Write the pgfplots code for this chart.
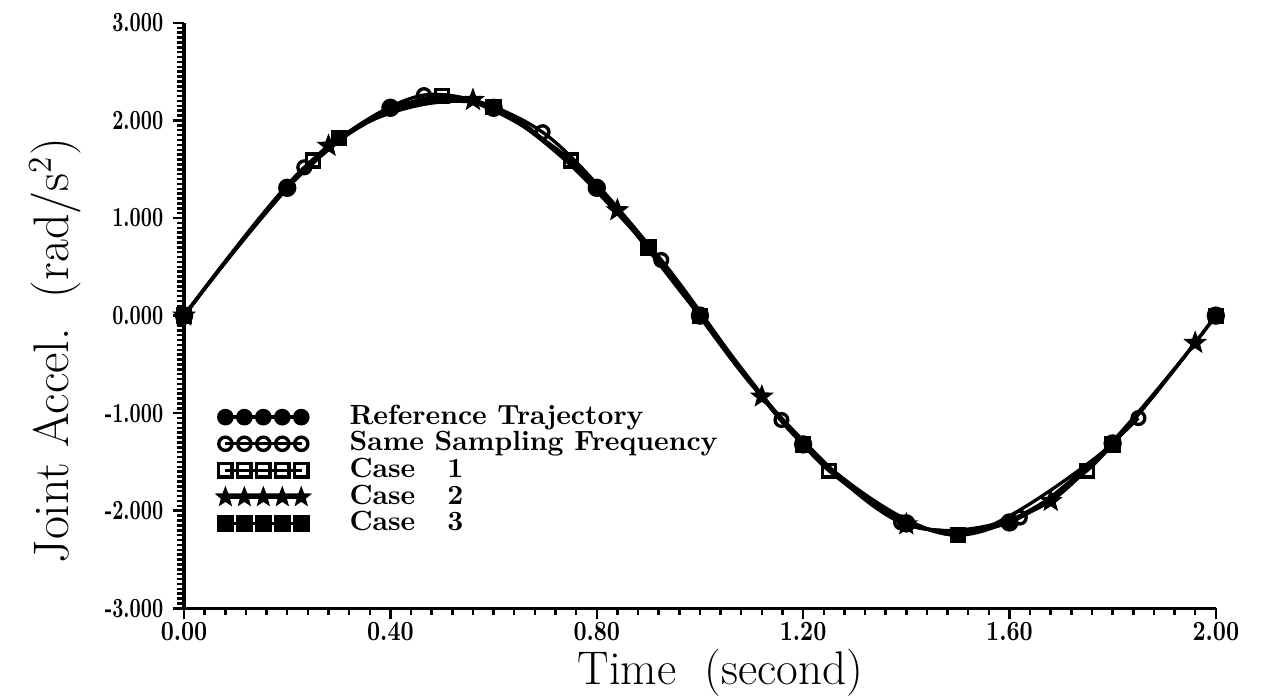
\documentclass[border=0pt]{standalone}
\usepackage{graphicx}
\usepackage{pgfplots}
\pgfplotsset{compat=1.18}

% filled five-pointed star
\pgfdeclareplotmark{fstar}{%
  \pgfpathmoveto{\pgfpointpolar{90}{\pgfplotmarksize}}%
  \pgfpathlineto{\pgfpointpolar{126}{0.42\pgfplotmarksize}}%
  \pgfpathlineto{\pgfpointpolar{162}{\pgfplotmarksize}}%
  \pgfpathlineto{\pgfpointpolar{198}{0.42\pgfplotmarksize}}%
  \pgfpathlineto{\pgfpointpolar{234}{\pgfplotmarksize}}%
  \pgfpathlineto{\pgfpointpolar{270}{0.42\pgfplotmarksize}}%
  \pgfpathlineto{\pgfpointpolar{306}{\pgfplotmarksize}}%
  \pgfpathlineto{\pgfpointpolar{342}{0.42\pgfplotmarksize}}%
  \pgfpathlineto{\pgfpointpolar{18}{\pgfplotmarksize}}%
  \pgfpathlineto{\pgfpointpolar{54}{0.42\pgfplotmarksize}}%
  \pgfpathclose\pgfusepathqfillstroke}

\begin{document}
\begin{tikzpicture}
\begin{axis}[
  scale only axis,
  width=13.06cm, height=7.41cm,
  xmin=0, xmax=2, ymin=-3, ymax=3,
  clip=false,
  axis x line=bottom, axis y line=left,
  axis line style={-, line width=1.3pt},
  xtick={0,0.4,0.8,1.2,1.6,2.0},
  ytick={-3,-2,-1,0,1,2,3},
  minor x tick num=9, minor y tick num=19,
  tick align=outside,
  major tick length=0.14cm, minor tick length=0.09cm,
  every tick/.style={black, line width=0.9pt},
  /pgf/number format/assume math mode=true,
  xticklabel={\scalebox{0.82}[1]{\pgfmathprintnumber[fixed,fixed zerofill,precision=2]{\tick}}},
  yticklabel={\scalebox{0.7}[1]{\pgfmathprintnumber[fixed,fixed zerofill,precision=3]{\tick}}},
  ticklabel style={font=\fontsize{10}{11}\selectfont\bfseries},
  xticklabel style={inner sep=0.5pt, text height=7pt, text depth=0pt},
  xlabel={Time\ \ (second)},
  ylabel={Joint Accel.\ \ (rad/s$^{2}$)},
  xlabel style={font=\fontsize{17}{19}\selectfont, inner sep=0pt, at={(axis description cs:0.52,-0.1305)}, anchor=base},
  ylabel style={font=\fontsize{18}{20}\selectfont, at={(axis description cs:-0.125,0.44)}, anchor=center},
  legend style={at={(axis cs:0.05,-0.85)}, anchor=north west, draw=none, fill=none,
    font=\fontsize{10}{10}\selectfont\bfseries, row sep=0.6pt,
    nodes={inner sep=0pt, text height=7pt, text depth=2pt}},
  legend cell align=left,
  legend image code/.code={%
    \draw[#1, mark size=2.4pt] plot coordinates {(0cm,0cm) (0.24cm,0cm) (0.48cm,0cm) (0.72cm,0cm) (0.96cm,0cm)};
    \path (1.55cm,0cm);},
]
% Reference Trajectory
\addplot[black, line width=1.2pt, smooth, mark=*, mark size=2.7pt] coordinates {
  (0,0) (0.2,1.31) (0.4,2.13) (0.6,2.13) (0.8,1.31) (1.0,0)
  (1.2,-1.32) (1.4,-2.13) (1.6,-2.12) (1.8,-1.31) (2.0,0)
};
% Same Sampling Frequency
\addplot[black, line width=1.2pt, smooth, mark=o, mark size=2.3pt, mark options={fill=white}] coordinates {
  (0,0) (0.233,1.52) (0.465,2.26) (0.695,1.88) (0.925,0.57) (1.158,-1.07)
  (1.39,-2.12) (1.62,-2.07) (1.85,-1.05)
};
% Case 1
\addplot[black, line width=1.2pt, smooth, mark=square, mark size=2.3pt, mark options={fill=white}] coordinates {
  (0,0) (0.25,1.59) (0.5,2.25) (0.75,1.59) (1.0,0) (1.25,-1.59)
  (1.5,-2.25) (1.75,-1.59) (2.0,0)
};
% Case 2
\addplot[black, line width=1.2pt, smooth, mark=fstar, mark size=2.8pt] coordinates {
  (0,0) (0.28,1.74) (0.56,2.21) (0.84,1.08) (1.12,-0.83) (1.40,-2.14)
  (1.68,-1.90) (1.96,-0.28)
};
% Case 3
\addplot[black, line width=1.2pt, smooth, mark=square*, mark size=2.4pt] coordinates {
  (0,0) (0.3,1.82) (0.6,2.14) (0.9,0.70) (1.2,-1.32) (1.5,-2.25) (1.8,-1.32)
};
\legend{Reference Trajectory, Same Sampling Frequency, Case\ \ \ 1, Case\ \ \ 2, Case\ \ \ 3}
\end{axis}
\pgfresetboundingbox
\path (-2.33cm,-1.13cm) rectangle (13.67cm,7.70cm);
\end{tikzpicture}
\end{document}
